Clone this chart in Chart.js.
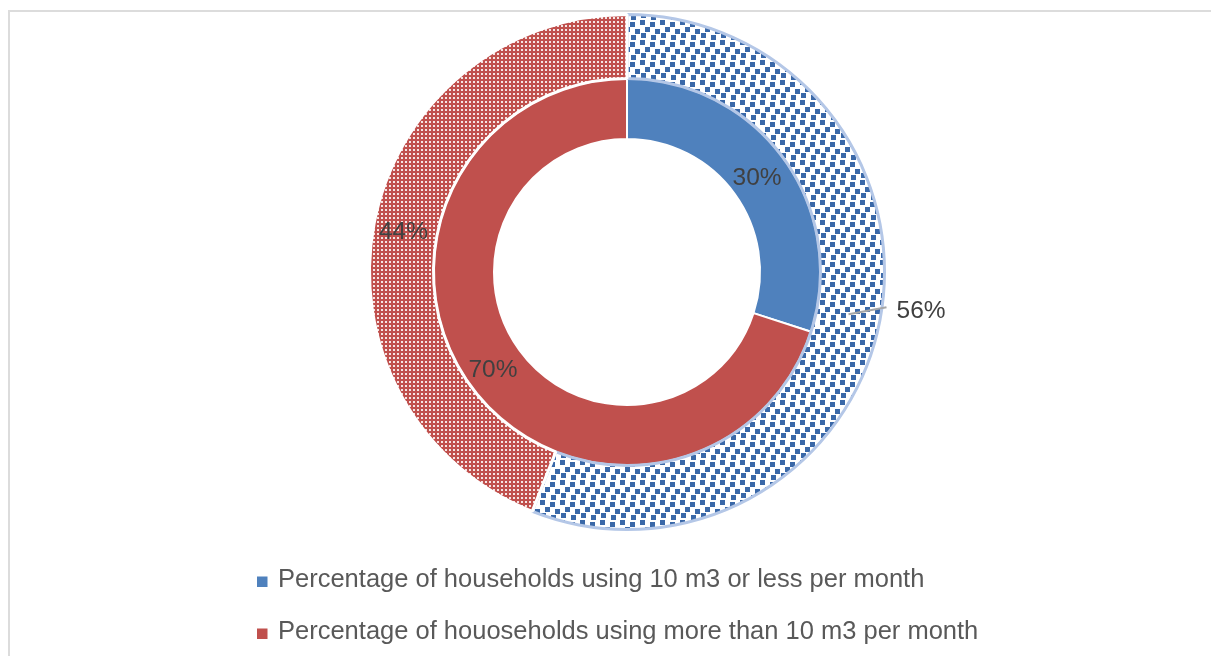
<!DOCTYPE html>
<html><head><meta charset="utf-8">
<script src="https://cdn.jsdelivr.net/npm/chart.js@4.4.1/dist/chart.umd.min.js"></script>
<style>
html,body{margin:0;padding:0;background:#fff;}
#wrap{position:relative;width:1211px;height:656px;overflow:hidden;}
#frame{position:absolute;left:8px;top:10px;width:1300px;height:700px;border-top:2px solid #DCDCDC;border-left:2px solid #DCDCDC;box-sizing:border-box;}
canvas{position:absolute;left:0;top:0;}
</style></head><body>
<div id="wrap"><div id="frame"></div><canvas id="c" width="1211" height="656"></canvas></div>
<script>
// ---- data ----
const categories = [
  'Percentage of households using 10 m3 or less per month',
  'Percentage of houoseholds using more than 10 m3 per month'
];
const outerValues = [56, 44];   // outer (patterned) ring
const innerValues = [30, 70];   // inner (solid) ring

// ---- styles ----
const solidColors = ['#4F81BD', '#C0504D'];

function makePattern(w, h, bg, fg, rects) {
  const c = document.createElement('canvas');
  c.width = w; c.height = h;
  const x = c.getContext('2d');
  x.fillStyle = bg; x.fillRect(0, 0, w, h);
  x.fillStyle = fg;
  rects.forEach(r => x.fillRect(r[0], r[1], r[2], r[3]));
  return x.createPattern(c, 'repeat');
}
const bluePattern = makePattern(20, 20, '#FFFFFF', '#3A68A8',
  [[0,0,5,5],[10,2,5,5],[5,7,5,5],[15,9,5,5],[1,13,5,5],[11,15,5,5]]);
const redPattern = makePattern(4, 4, '#C0504D', 'rgba(255,255,255,0.85)',
  [[1,1,2,2]]);

const sliceLabels = {
  id: 'sliceLabels',
  afterDatasetsDraw(chart, args, opts) {
    const ctx = chart.ctx;
    ctx.save();
    ctx.font = opts.font;
    ctx.fillStyle = opts.color;
    ctx.textBaseline = 'alphabetic';
    chart.data.datasets.forEach((ds, di) => {
      const meta = chart.getDatasetMeta(di);
      meta.data.forEach((arc, i) => {
        const p = arc.getProps(['x','y','startAngle','endAngle','innerRadius','outerRadius'], true);
        const mid = (p.startAngle + p.endAngle) / 2;
        const r = (p.innerRadius + p.outerRadius) / 2;
        const mx = p.x + Math.cos(mid) * r;
        const my = p.y + Math.sin(mid) * r;
        const txt = ds.data[i] + '%';
        const o = opts.outside.find(q => q.datasetIndex === di && q.index === i);
        if (o) {
          const ex = mx + o.dx, ey = my + o.dy;
          ctx.save();
          ctx.strokeStyle = '#A6A6A6';
          ctx.lineWidth = 2;
          ctx.beginPath(); ctx.moveTo(mx, my); ctx.lineTo(ex, ey); ctx.stroke();
          ctx.restore();
          ctx.textAlign = 'left';
          ctx.fillText(txt, ex + 10, ey + 2 + opts.capHalf);
        } else {
          ctx.textAlign = 'center';
          ctx.fillText(txt, mx - 2, my + opts.capHalf);
        }
      });
    });
    ctx.restore();
  }
};

const rowLegend = {
  id: 'rowLegend',
  afterDraw(chart, args, opts) {
    const ctx = chart.ctx;
    ctx.save();
    ctx.font = opts.font;
    ctx.textBaseline = 'alphabetic';
    ctx.textAlign = 'left';
    categories.forEach((label, i) => {
      const y = opts.top + i * opts.rowGap;
      ctx.fillStyle = solidColors[i];
      ctx.fillRect(opts.boxX, y - opts.box, opts.box, opts.box);
      ctx.fillStyle = opts.color;
      ctx.fillText(label, opts.textX, y);
    });
    ctx.restore();
  }
};

new Chart(document.getElementById('c'), {
  type: 'doughnut',
  data: {
    labels: categories,
    datasets: [
      {
        label: 'Outer ring',
        data: outerValues,
        backgroundColor: [bluePattern, redPattern],
        borderColor: ['#B4C7E7', '#FFFFFF'],
        borderWidth: 3, hoverBorderWidth: 3,
        hoverOffset: 0, offset: 0,
        weight: 64
      },
      {
        label: 'Inner ring',
        data: innerValues,
        backgroundColor: solidColors,
        borderColor: '#FFFFFF',
        borderWidth: 2, hoverBorderWidth: 2,
        hoverOffset: 0, offset: 0,
        weight: 60.5
      }
    ]
  },
  options: {
    responsive: false,
    animation: false,
    devicePixelRatio: 1,
    events: [],
    cutout: 133,
    layout: { padding: { left: 43, right: 0, top: 13, bottom: 125 } },
    plugins: {
      legend: { display: false },
      tooltip: { enabled: false },
      sliceLabels: {
        font: '24.5px "Liberation Sans", Arial, sans-serif',
        color: '#404040',
        capHalf: 8.8,
        outside: [{ datasetIndex: 0, index: 0, dx: 38, dy: -7 }]
      },
      rowLegend: {
        font: '25.5px "Liberation Sans", Arial, sans-serif',
        color: '#595959',
        top: 587, rowGap: 52,
        boxX: 257, box: 10.5, textX: 278
      }
    }
  },
  plugins: [sliceLabels, rowLegend]
});
</script>
</body></html>
